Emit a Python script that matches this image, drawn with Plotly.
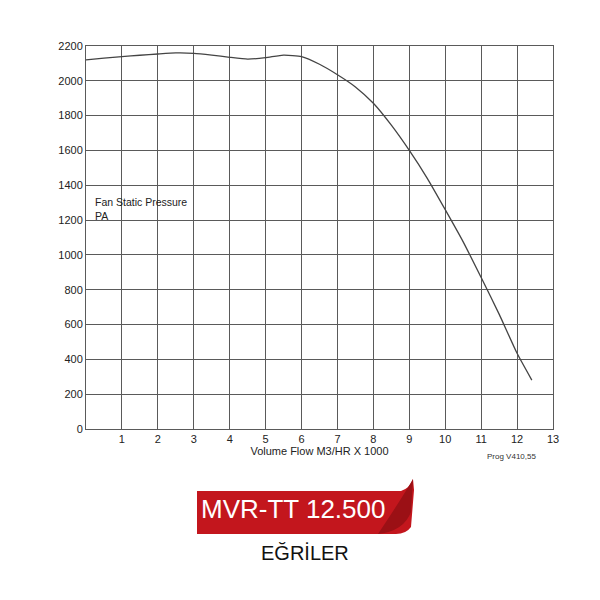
import plotly.graph_objects as go

# Data
flow = [0, 0.5, 1, 1.5, 2, 2.5, 3, 3.5, 4, 4.5, 5, 5.5, 6, 6.5, 7, 7.5, 8, 8.5, 9, 9.5, 10, 10.5, 11, 11.5, 12, 12.41]
pressure = [2120, 2130, 2139, 2147, 2154, 2160, 2158, 2148, 2135, 2125, 2133, 2148, 2139, 2095, 2035, 1965, 1871,
            1745, 1600, 1440, 1260, 1075, 870, 660, 435, 281]
x_ticks = list(range(1, 14))
y_ticks = list(range(0, 2201, 200))

# Layout in reference pixels (page has an 8px body margin)
OFF = 8
L, R, T, B = 86 - OFF, 553 - OFF, 46 - OFF, 429 - OFF
W = H = 600 - OFF


def px(x, y):
    x -= OFF
    y -= OFF
    return (x - L) / (R - L), (B - y) / (B - T)


fig = go.Figure()
fig.add_trace(go.Scatter(x=flow, y=pressure, mode="lines",
                         line=dict(color="#444444", width=1.3, shape="spline", smoothing=0.5),
                         hoverinfo="x+y", showlegend=False))

axis_common = dict(showgrid=True, gridcolor="#5a5a5a", gridwidth=1, showline=True, linecolor="#5a5a5a",
                   linewidth=1, mirror=True, zeroline=False, ticks="",
                   tickfont=dict(family="Liberation Sans, Arial", size=11, color="#222222"))
fig.update_xaxes(range=[0, 13], tickvals=x_ticks, ticktext=[str(v) for v in x_ticks],
                 title=dict(text="Volume Flow M3/HR X 1000", standoff=0,
                            font=dict(family="Liberation Sans, Arial", size=11, color="#222222")),
                 **axis_common)
fig.update_yaxes(range=[0, 2200], tickvals=y_ticks, ticksuffix="  ", **axis_common)

# Banner shapes (decorative)
main_banner = "M {} L {} Q {} {} L {} L {} Q {} {} L {} Z".format(
    *[("%.4f,%.4f" % px(*p)) for p in [(197, 491), (401, 491), (410, 488), (413, 479), (414, 490),
                                       (411, 527), (406, 534), (396, 534), (197, 534)]])
fold = "M {} Q {} {} L {} Q {} {} Z".format(
    *[("%.4f,%.4f" % px(*p)) for p in [(378, 534), (404, 531), (411, 512), (413, 479),
                                       (402, 498), (378, 534)]])
fig.add_shape(type="path", path=main_banner, xref="paper", yref="paper",
              fillcolor="#c3161d", line=dict(width=0), layer="above")
fig.add_shape(type="path", path=fold, xref="paper", yref="paper",
              fillcolor="#9b1015", line=dict(width=0), layer="above")

ann_font = "Liberation Sans, Arial"
bx, by = px(293, 509)
fig.add_annotation(x=bx, y=by, xref="paper", yref="paper", text="MVR-TT 12.500", showarrow=False,
                   font=dict(family=ann_font, size=26, color="white"), xanchor="center", yanchor="middle")
ex, ey = px(305, 553)
fig.add_annotation(x=ex, y=ey, xref="paper", yref="paper", text="EĞRİLER", showarrow=False,
                   font=dict(family=ann_font, size=20, color="#111111"), xanchor="center", yanchor="middle")
fx, fy = px(93, 209)
fig.add_annotation(x=fx, y=fy, xref="paper", yref="paper", text="Fan Static Pressure<br>PA", showarrow=False,
                   align="left", font=dict(family=ann_font, size=10.5, color="#222222"),
                   xanchor="left", yanchor="middle")
gx, gy = px(538, 456)
fig.add_annotation(x=gx, y=gy, xref="paper", yref="paper", text="Prog V410,55", showarrow=False,
                   font=dict(family=ann_font, size=8, color="#333333"), xanchor="right", yanchor="middle")

fig.update_layout(width=W, height=H, margin=dict(l=L, r=W - R, t=T, b=H - B),
                  paper_bgcolor="white", plot_bgcolor="white")
fig.write_html("out.html")
